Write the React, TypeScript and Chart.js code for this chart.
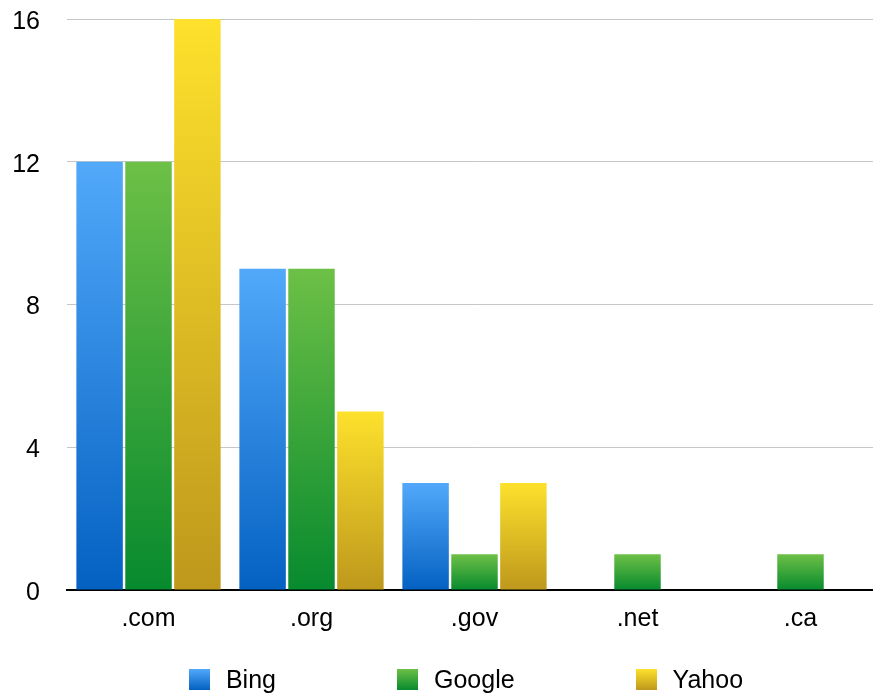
import React, { useEffect, useRef } from "react";
import { Chart, registerables } from "chart.js";

Chart.register(...registerables);

const categories = [".com", ".org", ".gov", ".net", ".ca"];
const bing = [12, 9, 3, 0, 0];
const google = [12, 9, 1, 1, 1];
const yahoo = [16, 5, 3, 0, 0];
const yTicks = [0, 4, 8, 12, 16];

const seriesNames = ["Bing", "Google", "Yahoo"];
const seriesTop = ["#52a9fa", "#6dc046", "#fde12c"];
const seriesBottom = ["#0461c2", "#078a2e", "#be981c"];

const FONT = "'Liberation Sans', Helvetica, Arial, sans-serif";

function gradientFor(i: number) {
  return (ctx: any) => {
    const chart = ctx.chart;
    const scales = chart.scales;
    if (!chart.chartArea || !scales || !scales.y || ctx.type !== "data") return seriesTop[i];
    const v = ctx.raw as number;
    const top = scales.y.getPixelForValue(v);
    const base = scales.y.getPixelForValue(0);
    if (!isFinite(top) || !isFinite(base) || Math.abs(base - top) < 1) return seriesBottom[i];
    const g = chart.ctx.createLinearGradient(0, top, 0, base);
    g.addColorStop(0, seriesTop[i]);
    g.addColorStop(1, seriesBottom[i]);
    return g;
  };
}

export default function App() {
  const ref = useRef<HTMLCanvasElement>(null);
  useEffect(() => {
    if (!ref.current) return;
    const data = [bing, google, yahoo];
    const chart = new Chart(ref.current, {
      type: "bar",
      data: {
        labels: categories,
        datasets: data.map((d, i) => ({
          label: seriesNames[i],
          data: d,
          backgroundColor: gradientFor(i),
          borderWidth: 0,
          categoryPercentage: 0.9,
          barPercentage: 0.95,
        })),
      },
      options: {
        responsive: false,
        animation: false,
        layout: { padding: { left: 0, right: 0, top: 19, bottom: 0 } },
        plugins: {
          legend: { display: false },
          tooltip: { enabled: false },
        },
        scales: {
          x: {
            grid: { display: false, drawTicks: false },
            border: { display: true, color: "#000000", width: 2 },
            ticks: { color: "#000000", font: { family: FONT, size: 25 }, padding: 14 },
            afterFit: (axis: any) => {
              axis.height = 108;
              axis.paddingLeft = 0;
              axis.paddingRight = 0;
            },
          },
          y: {
            min: 0,
            max: 16,
            afterBuildTicks: (axis: any) => {
              axis.ticks = yTicks.map((v) => ({ value: v }));
            },
            grid: { color: "#c6c6c6", lineWidth: 1, drawTicks: false },
            border: { display: false },
            ticks: { color: "#000000", font: { family: FONT, size: 25 }, padding: 27, labelOffset: 3 },
            afterFit: (axis: any) => {
              axis.width = 67;
              axis.paddingTop = 0;
              axis.paddingBottom = 0;
            },
          },
        },
      },
    });
    return () => chart.destroy();
  }, []);

  return (
    <div style={{ position: "absolute", left: 0, top: 0, width: 873, height: 698, background: "#fff", overflow: "hidden" }}>
      <canvas ref={ref} width={882} height={698} style={{ display: "block" }} />
      <div
        style={{
          position: "absolute",
          left: 63,
          width: 806,
          top: 664,
          height: 30,
          display: "flex",
          justifyContent: "center",
          alignItems: "center",
          gap: 121,
          fontFamily: FONT,
          fontSize: 25,
          color: "#000",
        }}
      >
        {seriesNames.map((n, i) => (
          <div key={n} style={{ display: "flex", alignItems: "center" }}>
            <span
              style={{
                display: "inline-block",
                width: 21,
                height: 21,
                marginRight: 16,
                background: `linear-gradient(${seriesTop[i]}, ${seriesBottom[i]})`,
              }}
            />
            <span>{n}</span>
          </div>
        ))}
      </div>
    </div>
  );
}
